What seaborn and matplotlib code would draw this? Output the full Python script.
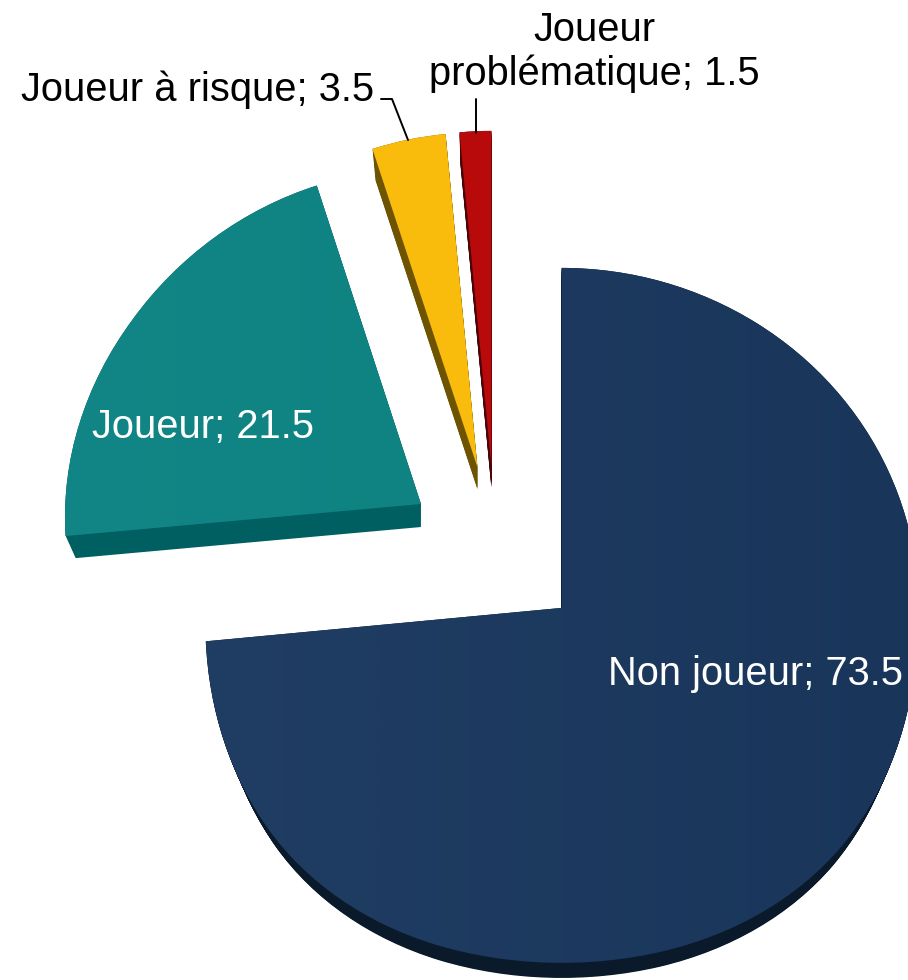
import numpy as np
import seaborn as sns
import matplotlib.pyplot as plt
from matplotlib.colors import LinearSegmentedColormap
from matplotlib.lines import Line2D
from matplotlib.patches import PathPatch
from matplotlib.path import Path

# Data
categories = ["Non joueur", "Joueur", "Joueur à risque", "Joueur\nproblématique"]
values = [73.5, 21.5, 3.5, 1.5]

# Colours: lit left side / lit right side of the top face, then the side face
top_left = ["#203d63", "#128686", "#fabe0e", "#ba0b0b"]
top_right = ["#19355a", "#0c7e7e", "#f8bb0a", "#b70909"]
side_colors = ["#0a1a2b", "#005f60", "#6e5400", "#4a0508"]

sns.set_theme(style="white")
plt.rcParams["font.family"] = ["Liberation Sans", "DejaVu Sans"]

W, H = 908, 980
RX, RY = 357.0, 340.0
OX, OY = 495.6, 550.7
# the front of the pie looks bigger than the back
stretch_up = [1.0, 0.985, 0.985, 0.985]
stretch_down = [1.044, 1.0, 1.0, 1.0]
narrow_up = [0.0, 0.058, 0.05, 0.05]
widen_down = [0.13, 0.0, 0.0, 0.0]
depth_px = [25, 23, 22, 22]
shrink = 0.028

fig = plt.figure(figsize=(W / 100, H / 100), dpi=100)
ax = fig.add_axes([0, 0, 1, 1])
wedges, _ = ax.pie(values, explode=[0.25] * 4, startangle=90, counterclock=False, radius=1)
ax.set_aspect("auto")
ax.axis("off")


def warped(wedge, i, frac=0.0):
    # wedge outline, stretched and pushed down by frac of the slice depth
    cx, cy = wedge.center
    path = wedge.get_path()
    v = path.vertices.copy()
    dx = v[:, 0] - cx
    dy = v[:, 1] - cy
    dx = dx * np.where(dy > 0, 1 - narrow_up[i] * dy, 1 + widen_down[i] * dy ** 2)
    dy = np.where(dy > 0, dy * stretch_up[i], dy * stretch_down[i])
    scale = 1 - shrink * frac
    new = np.column_stack([cx + dx * scale, cy + dy * scale - frac * depth_px[i] / RY])
    return Path(new, path.codes)


for i, w in enumerate(wedges):
    w.set_visible(False)
    for frac in np.linspace(1, 0, 26):
        ax.add_patch(PathPatch(warped(w, i, frac), fc=side_colors[i], ec="none", zorder=2))

for i, w in enumerate(wedges):
    face = PathPatch(warped(w, i), fc="none", ec="none", zorder=3)
    ax.add_patch(face)
    cmap = LinearSegmentedColormap.from_list("top", [top_left[i], top_right[i]])
    x0, x1 = w.center[0] - 1.05, w.center[0] + 1.05
    y0, y1 = w.center[1] - 1.1, w.center[1] + 1.1
    im = ax.imshow(np.linspace(0, 1, 64).reshape(1, -1), extent=(x0, x1, y0, y1), cmap=cmap,
                   aspect="auto", zorder=3, interpolation="bilinear")
    im.set_clip_path(face)

ax.set_xlim(-OX / RX, (W - OX) / RX)
ax.set_ylim((OY - H) / RY, OY / RY)


def px(x, y):
    return x / W, 1 - y / H


fs = 28.7
kw = dict(transform=fig.transFigure, fontsize=fs, va="center", zorder=5)
ax.text(*px(755, 674), f"{categories[0]}; {values[0]}", color="white", ha="center", **kw)
ax.text(*px(203, 427), f"{categories[1]}; {values[1]}", color="white", ha="center", **kw)
ax.text(*px(197.5, 90), f"{categories[2]}; {values[2]}", color="black", ha="center", **kw)
ax.text(*px(594.5, 52), f"{categories[3]}; {values[3]}", color="black", ha="center",
        linespacing=1.18, **kw)

# Leader lines
for xs, ys in [((381, 392, 408), (99, 99, 140)), ((476, 476), (99, 133))]:
    fig.add_artist(Line2D(np.array(xs) / W, 1 - np.array(ys) / H, color="black", lw=1.4, zorder=6))

fig.savefig("out.png", dpi=100, facecolor="white")
